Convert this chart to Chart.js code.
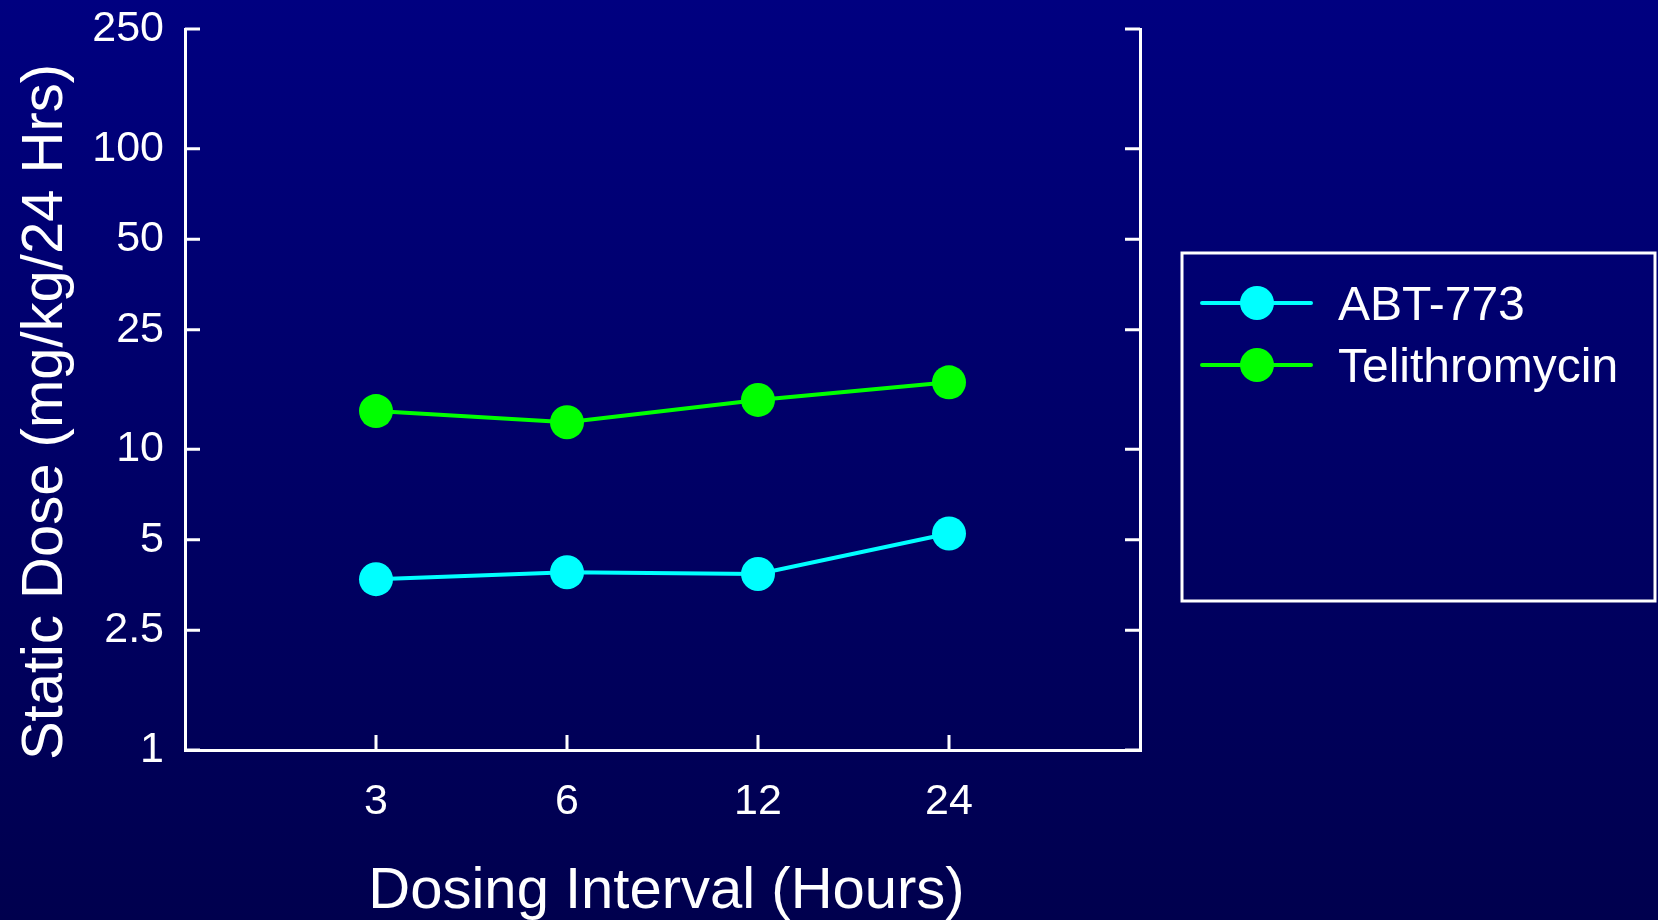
<!DOCTYPE html>
<html>
<head>
<meta charset="utf-8">
<script src="https://cdn.jsdelivr.net/npm/chart.js@4"></script>
<style>
  html, body { margin: 0; padding: 0; background: #000080; }
  #wrap { width: 1658px; height: 920px; }
</style>
</head>
<body>
<div id="wrap"><canvas id="c" width="1658" height="920"></canvas></div>
<script>
// ---- data ----
const intervals = [3, 6, 12, 24];
const intervalLabels = ['3', '6', '12', '24'];
const abt773 = [3.7, 3.9, 3.85, 5.25];
const telithromycin = [13.4, 12.3, 14.6, 16.7];
const yTickValues = [1, 2.5, 5, 10, 25, 50, 100, 250];
const yTickLabels = ['1', '2.5', '5', '10', '25', '50', '100', '250'];
const seriesNames = ['ABT-773', 'Telithromycin'];
const xTitle = 'Dosing Interval (Hours)';
const yTitle = 'Static Dose (mg/kg/24 Hrs)';

const FONT = '"Liberation Sans", Arial, sans-serif';
const WHITE = '#ffffff';
const CYAN = '#00ffff';
const GREEN = '#00ff00';

const bgPlugin = {
  id: 'bg',
  beforeDraw(chart) {
    const { ctx, width, height } = chart;
    const g = ctx.createLinearGradient(0, 0, 0, height);
    g.addColorStop(0, '#000080');
    g.addColorStop(1, '#00004e');
    ctx.save();
    ctx.fillStyle = g;
    ctx.fillRect(0, 0, width, height);
    ctx.restore();
  }
};

const decorPlugin = {
  id: 'decor',
  afterDraw(chart) {
    const { ctx, chartArea } = chart;
    const ys = chart.scales.y, xs = chart.scales.x;
    const len = 15;
    ctx.save();
    ctx.strokeStyle = WHITE;
    ctx.lineWidth = 3;
    ctx.lineCap = 'butt';
    ctx.beginPath();
    ys.ticks.forEach(t => {
      const py = ys.getPixelForValue(t.value);
      ctx.moveTo(chartArea.left, py); ctx.lineTo(chartArea.left + len, py);
      ctx.moveTo(chartArea.right, py); ctx.lineTo(chartArea.right - len, py);
    });
    xs.ticks.forEach(t => {
      const px = xs.getPixelForValue(t.value);
      ctx.moveTo(px, chartArea.bottom); ctx.lineTo(px, chartArea.bottom - len);
    });
    ctx.stroke();

    // axis titles
    ctx.fillStyle = WHITE;
    ctx.font = '58px ' + FONT;
    ctx.textAlign = 'center';
    ctx.textBaseline = 'alphabetic';
    ctx.fillText(xTitle, (chartArea.left + chartArea.right) / 2 + 4, 908);
    ctx.save();
    ctx.translate(62, 412);
    ctx.rotate(-Math.PI / 2);
    ctx.fillText(yTitle, 0, 0);
    ctx.restore();

    // legend box
    const bx = 1182, by = 253, bw = 1655 - 1182, bh = 601 - 253;
    ctx.lineWidth = 3;
    ctx.strokeRect(bx, by, bw, bh);
    const entries = [
      { name: seriesNames[0], color: CYAN, y: 303 },
      { name: seriesNames[1], color: GREEN, y: 365 }
    ];
    entries.forEach(e => {
      ctx.strokeStyle = e.color;
      ctx.lineWidth = 4;
      ctx.lineCap = 'round';
      ctx.beginPath();
      ctx.moveTo(1202, e.y); ctx.lineTo(1311, e.y);
      ctx.stroke();
      ctx.fillStyle = e.color;
      ctx.beginPath();
      ctx.arc(1257, e.y, 17, 0, Math.PI * 2);
      ctx.fill();
      ctx.fillStyle = WHITE;
      ctx.font = '48px ' + FONT;
      ctx.textAlign = 'left';
      ctx.textBaseline = 'alphabetic';
      ctx.fillText(e.name, 1338, e.y + 17);
    });
    ctx.restore();
  }
};

const commonBorder = { display: true, color: WHITE, width: 3 };
const noGrid = { display: true, drawOnChartArea: false, drawTicks: false, lineWidth: 3, color: WHITE };
const zeroPad = s => { s.paddingTop = 0; s.paddingBottom = 0; s.paddingLeft = 0; s.paddingRight = 0; };

new Chart(document.getElementById('c'), {
  type: 'line',
  data: {
    datasets: [
      {
        label: seriesNames[0],
        data: intervals.map((x, i) => ({ x, y: abt773[i] })),
        borderColor: CYAN, backgroundColor: CYAN,
        pointBackgroundColor: CYAN, pointBorderWidth: 0,
        pointRadius: 17, borderWidth: 4, tension: 0
      },
      {
        label: seriesNames[1],
        data: intervals.map((x, i) => ({ x, y: telithromycin[i] })),
        borderColor: GREEN, backgroundColor: GREEN,
        pointBackgroundColor: GREEN, pointBorderWidth: 0,
        pointRadius: 17, borderWidth: 4, tension: 0
      }
    ]
  },
  options: {
    responsive: false,
    animation: false,
    events: [],
    layout: { padding: { top: 29, left: 0, right: 0, bottom: 0 } },
    plugins: { legend: { display: false }, tooltip: { enabled: false } },
    scales: {
      x: {
        type: 'logarithmic',
        position: 'bottom',
        min: 1.5, max: 48,
        grid: noGrid,
        border: commonBorder,
        afterBuildTicks: s => { s.ticks = intervals.map(v => ({ value: v })); },
        afterFit: s => { s.height = 170; zeroPad(s); },
        ticks: {
          color: WHITE, padding: 26, maxRotation: 0, autoSkip: false,
          font: { family: FONT, size: 43 },
          callback: (v, i) => intervalLabels[i]
        }
      },
      y: {
        type: 'logarithmic',
        position: 'left',
        min: 1, max: 250,
        grid: noGrid,
        border: commonBorder,
        afterBuildTicks: s => { s.ticks = yTickValues.map(v => ({ value: v })); },
        afterFit: s => { s.width = 185; zeroPad(s); },
        ticks: {
          color: WHITE, padding: 21, autoSkip: false,
          font: { family: FONT, size: 43 },
          callback: (v, i) => yTickLabels[i]
        }
      },
      y2: {
        type: 'logarithmic',
        position: 'right',
        min: 1, max: 250,
        grid: noGrid,
        border: commonBorder,
        afterBuildTicks: s => { s.ticks = yTickValues.map(v => ({ value: v })); },
        afterFit: s => { s.width = 518; zeroPad(s); },
        ticks: { display: false }
      }
    }
  },
  plugins: [bgPlugin, decorPlugin]
});
</script>
</body>
</html>
